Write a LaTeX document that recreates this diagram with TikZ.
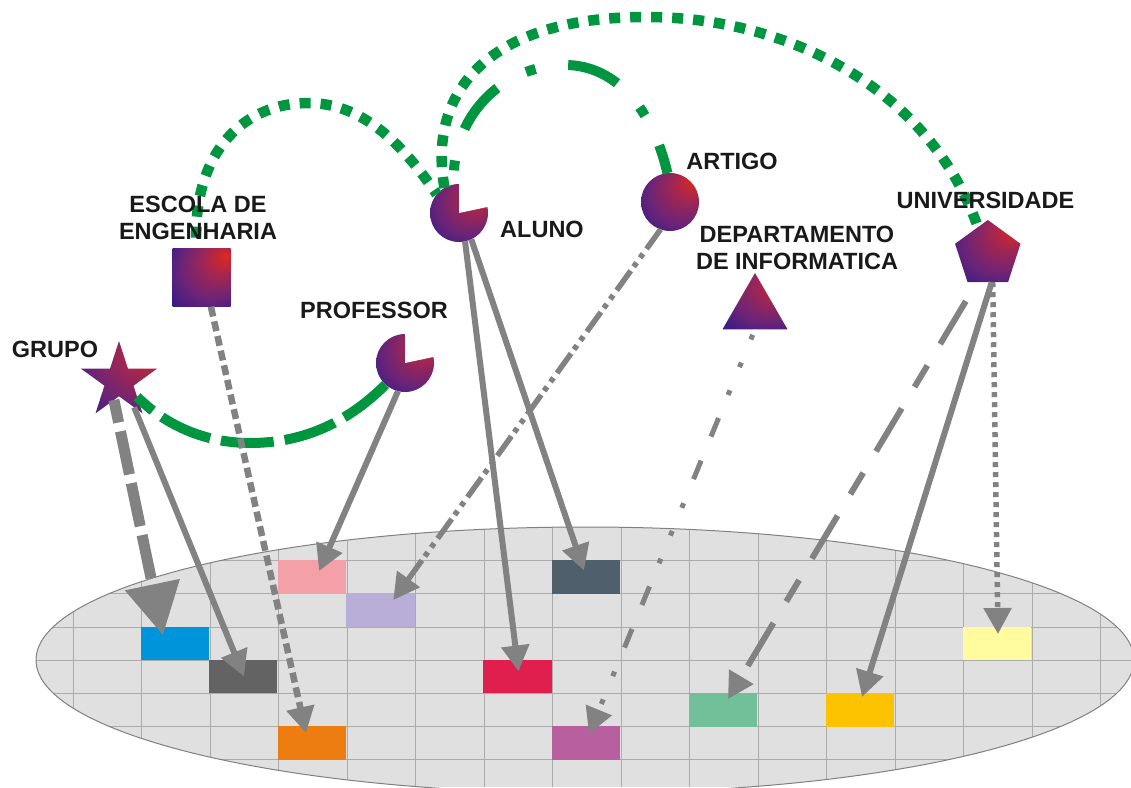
\documentclass[tikz,border=0pt]{standalone}
\usepackage{fontspec}
\setmainfont{Liberation Sans}
\usepackage{tikz}
\usetikzlibrary{arrows.meta,shapes.geometric}

\definecolor{arcgreen}{HTML}{009640}
\definecolor{arrowgray}{HTML}{828282}
\definecolor{gridgray}{HTML}{ABABAB}
\definecolor{hotred}{HTML}{E0281C}
\definecolor{midred}{HTML}{A42650}
\definecolor{midpurple}{HTML}{6A2478}
\definecolor{deepblue}{HTML}{2E1A88}

\pgfdeclareradialshading{glowball}{\pgfpoint{22bp}{20bp}}{color(0bp)=(hotred); color(13bp)=(midred); color(28bp)=(midpurple); color(42bp)=(deepblue); color(50bp)=(deepblue)}

\tikzset{
  solid shape/.style={shading=glowball,inner sep=0pt,outer sep=0pt},
  ball/.style={solid shape,circle,minimum size=58pt},
  label text/.style={font=\fontsize{23.5}{27}\selectfont\bfseries,text=black!90,align=center,inner sep=0pt},
  cell/.style={minimum width=68.5pt,minimum height=33.2pt,inner sep=0pt,outer sep=0pt},
  link/.style={draw=arrowgray,line width=6pt,-{Triangle[length=26pt,width=27pt]}},
  arc/.style={draw=arcgreen,line width=10pt},
  arcdots/.style={arc,line width=10.5pt,dash pattern=on 11pt off 10pt}
}

\begin{document}
\begin{tikzpicture} [x=1pt,y=-1pt]

  \useasboundingbox (0,0) rectangle (1131,787);

  \begin{scope}
    \clip (585,660) ellipse [x radius=549,y radius=133];
    \fill[black!12] (0,500) rectangle (1131,787);
    \foreach \i in {0,...,15}
      \draw[gridgray,line width=1pt] (73+68.5*\i,500) -- (73+68.5*\i,787);
    \foreach \j in {0,...,6}
      \draw[gridgray,line width=1pt] (0,560.7+33.2*\j) -- (1131,560.7+33.2*\j);
  \end{scope}
  \draw[black!50,line width=1pt] (585,660) ellipse [x radius=549,y radius=133];

  \node[cell,fill={rgb,255:red,244;green,160;blue,168}] (cpink) at (312,577) {};
  \node[cell,fill={rgb,255:red,184;green,174;blue,216}] (clav) at (380.3,610) {};
  \node[cell,fill={rgb,255:red,79;green,95;blue,107}] (cslate) at (586,577) {};
  \node[cell,fill={rgb,255:red,0;green,149;blue,218}] (cblue) at (175,643.5) {};
  \node[cell,fill={rgb,255:red,99;green,99;blue,99}] (cdark) at (243,676.5) {};
  \node[cell,fill={rgb,255:red,224;green,31;blue,79}] (cred) at (517.5,676.5) {};
  \node[cell,fill={rgb,255:red,114;green,192;blue,154}] (cgreen) at (723,710) {};
  \node[cell,fill={rgb,255:red,253;green,195;blue,0}] (camber) at (860,710) {};
  \node[cell,fill={rgb,255:red,255;green,251;blue,158}] (cyellow) at (997,643.5) {};
  \node[cell,fill={rgb,255:red,238;green,125;blue,17}] (corange) at (312,743) {};
  \node[cell,fill={rgb,255:red,184;green,95;blue,160}] (cmag) at (586,743) {};

  \node[solid shape,minimum size=58pt] (esc) at (201.5,277.7) {};
  \node[solid shape,star,star points=5,star point ratio=2.618,minimum size=80pt] (gru) at (119,381) {};
  \node[ball] (pro) at (405,363) {};
  \fill[white] (pro.center) -- ++(32,-6.8) -- ++(0,-30) -- ++(-32,0) -- cycle;
  \node[ball] (alu) at (459,213) {};
  \fill[white] (alu.center) -- ++(32,-6.8) -- ++(0,-30) -- ++(-32,0) -- cycle;
  \node[ball] (art) at (670,202) {};
  \node[solid shape,regular polygon,regular polygon sides=3,minimum size=75pt] (dep) at (755,310.5) {};
  \node[solid shape,regular polygon,regular polygon sides=5,minimum size=68.8pt] (uni) at (987.8,254.4) {};

  \coordinate (esctop) at (308,103);
  \coordinate (unitop) at (646,17);
  \coordinate (arttop) at (565,65);
  \coordinate (probot) at (250,443);

  \draw[arcdots,shorten <=11pt] (esc.100) .. controls (195,150) and (245,103) .. (esctop)
    .. controls (360,103) and (400,140) .. (alu.140);
  \draw[arcdots] (alu.120) .. controls (427,90) and (490,17) .. (unitop)
    .. controls (790,17) and (930,90) .. (uni.110);
  \draw[arc,dash pattern=on 53pt off 33pt on 10pt off 33pt,dash phase=24pt] (art.95)
    .. controls (650,100) and (610,65) .. (arttop)
    .. controls (500,65) and (450,120) .. (alu.100);
  \draw[arc,dash pattern=on 53pt off 11pt] (pro.-132) .. controls (345,425) and (300,443) .. (probot)
    .. controls (205,443) and (165,425) .. (gru.-41);

  \path
    (gru.-105) edge[link,line width=11pt,dash pattern=on 44pt off 9pt,dash phase=21pt,-{Triangle[length=52pt,width=53pt]}]
      ([xshift=-12pt,yshift=8pt]cblue.center)
    (gru.-60) edge[link] ([xshift=1pt]cdark.center)
    (pro.-104) edge[link] ([xshift=7pt,yshift=6pt]cpink.center)
    (esc.-72) edge[link,line width=6.5pt,dash pattern=on 10pt off 5pt] ([xshift=-6pt,yshift=10pt]corange.center)
    (alu.-78) edge[link] ([xshift=1pt,yshift=5pt]cred.center)
    (alu.-65) edge[link] ([xshift=-2pt,yshift=6.5pt]cslate.center)
    (art.-109) edge[link,line width=5.5pt,dash pattern=on 24pt off 6pt on 5pt off 6pt on 5pt off 5pt]
      ([xshift=13pt,yshift=10pt]clav.center)
    (dep.south) edge[link,line width=5pt,shorten <=6pt,dash pattern=on 5pt off 25pt on 5pt off 25pt on 5pt off 25pt on 20pt off 26pt on 20pt off 26pt]
      ([xshift=3pt,yshift=9pt]cmag.center)
    (uni.-111) edge[link,shorten <=22pt,dash pattern=on 50pt off 25pt on 25pt off 25pt]
      ([xshift=5pt,yshift=11pt]cgreen.center)
    (uni.-82) edge[link] ([xshift=2pt,yshift=13pt]camber.center)
    (uni.-80) edge[link,line width=5.5pt,dash pattern=on 5pt off 5pt] ([xshift=1pt,yshift=9.5pt]cyellow.center);

  \node[label text] (lgru) at (55,349) {GRUPO};
  \node[label text] (lesc) at (198,217.5) {ESCOLA DE\\ENGENHARIA};
  \node[label text] (lpro) at (374,310) {PROFESSOR};
  \node[label text] (lalu) at (542,229) {ALUNO};
  \node[label text] (lart) at (732,161) {ARTIGO};
  \node[label text] (luni) at (985.5,200.5) {UNIVERSIDADE};
  \node[label text] (ldep) at (797,247.5) {DEPARTAMENTO\\DE INFORMATICA};

\end{tikzpicture}
\end{document}
